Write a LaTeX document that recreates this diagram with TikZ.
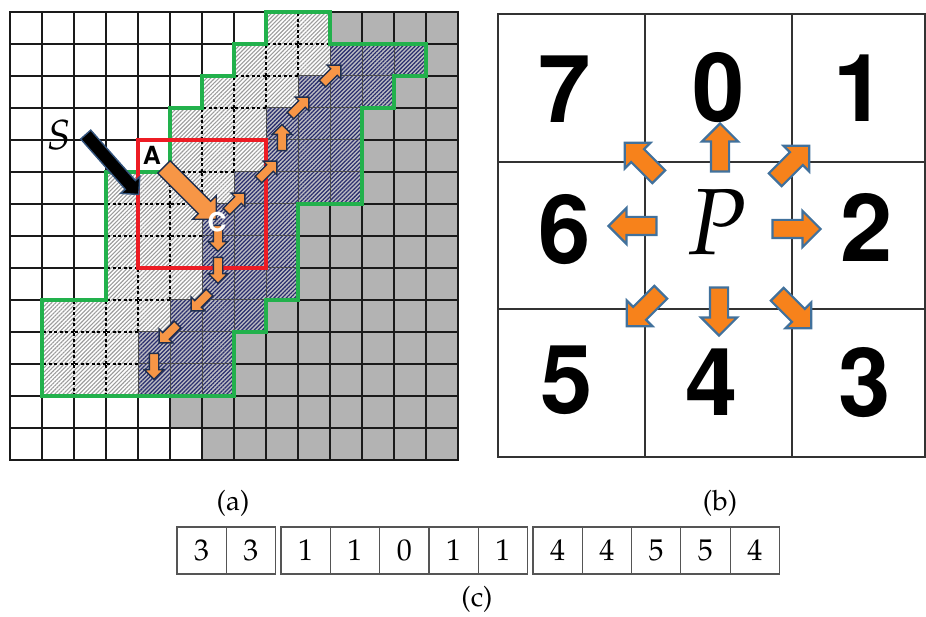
\documentclass[tikz,border=0pt]{standalone}
\usepackage[T1]{fontenc}
\usepackage{mathpazo}
\usepackage{helvet}
\usepackage{xcolor}
\usepackage{tikz}
\usetikzlibrary{shapes.arrows, patterns.meta, calc, positioning}
\definecolor{cellgray}{HTML}{B3B3B3}
\definecolor{hatchgray}{HTML}{9C9C9C}
\definecolor{codenavy}{HTML}{2B2F6E}
\definecolor{codebg}{HTML}{BDBDC3}
\definecolor{regiongreen}{HTML}{22B14C}
\definecolor{windowred}{HTML}{ED1C24}
\definecolor{chainorange}{HTML}{F79646}
\definecolor{chainedge}{HTML}{1F2F4F}
\definecolor{dirorange}{HTML}{F7821B}
\definecolor{diredge}{HTML}{41719C}
\definecolor{pointeredge}{HTML}{34557F}
\definecolor{lineblack}{HTML}{1A1A1A}
\definecolor{stripline}{HTML}{555555}
\tikzstyle{gridline} = [draw=lineblack, line width=1.6pt, line cap=rect]
\tikzstyle{bandcell} = [preaction={fill=white}, pattern={Lines[angle=45, distance=2.9pt, line width=1.1pt]}, pattern color=hatchgray]
\tikzstyle{bandline} = [draw=black, line width=1.1pt, dash pattern=on 3pt off 2.5pt]
\tikzstyle{codecell} = [preaction={fill=codebg}, pattern={Lines[angle=45, distance=2.9pt, line width=1.25pt]}, pattern color=codenavy, draw=black!70, line width=1pt]
\tikzstyle{regionline} = [draw=regiongreen, line width=3.2pt, line join=miter]
\tikzstyle{windowline} = [draw=windowred, line width=3.2pt]
\tikzstyle{chainarrow} = [single arrow, draw=chainedge, fill=chainorange, line width=1.4pt, minimum height=26pt, minimum width=0pt, inner xsep=0pt, inner ysep=4pt, single arrow head extend=5pt]
\tikzstyle{bigarrow} = [single arrow, draw=chainedge, fill=chainorange, line width=1.4pt, minimum height=74pt, minimum width=0pt, inner xsep=0pt, inner ysep=8pt, single arrow head extend=8pt]
\tikzstyle{pointer} = [single arrow, draw=pointeredge, fill=black, line width=1.4pt, minimum height=80pt, minimum width=0pt, inner xsep=0pt, inner ysep=6pt, single arrow head extend=6pt]
\tikzstyle{dirarrow} = [single arrow, draw=diredge, fill=dirorange, line width=2.2pt, minimum height=48pt, minimum width=0pt, inner xsep=0pt, inner ysep=8pt, single arrow head extend=9pt]
\tikzstyle{frameline} = [draw=black!80, line width=1.3pt]
\tikzstyle{celldigit} = [inner sep=0pt, font=\fontsize{94}{94}\selectfont\sffamily\bfseries]
\tikzstyle{codebox} = [draw=stripline, line width=1.2pt, minimum width=49.3pt, minimum height=47pt, inner sep=0pt, outer sep=0pt, font=\fontsize{30}{30}\selectfont]

\begin{document}
\begin{tikzpicture}[x=1pt, y=-1pt, every node/.style={font=\fontsize{28}{30}\selectfont}]
    \useasboundingbox (0,0) rectangle (926,617);

    % (a) grid of 14 x 14 cells
    \begin{scope}[xshift=10pt, yshift=-12pt, x=32pt, y=-32pt]
        \def\bandrows{0/8/9, 1/7/9, 2/6/8, 3/5/7, 4/5/7, 5/3/6, 6/3/5, 7/3/5, 8/3/5, 9/1/4, 10/1/3, 11/1/3}
        \def\coderows{1/10/12, 2/9/11, 3/8/10, 4/8/10, 5/7/10, 6/6/8, 7/6/8, 8/6/8, 9/5/7, 10/4/6, 11/4/6}
        \foreach \r/\a in {0/10, 1/13, 2/12, 3/11, 4/11, 5/11, 6/9, 7/9, 8/9, 9/8, 10/7, 11/7, 12/5, 13/6}
            \fill[cellgray] (\a,\r) rectangle (14,\r+1);
        \foreach \i in {0,...,14} {
            \draw[gridline] (\i,0) -- (\i,14);
            \draw[gridline] (0,\i) -- (14,\i);
        }
        \foreach \r/\a/\b in \bandrows
            \foreach \c in {\a,...,\b}
                \path[bandcell] (\c,\r) rectangle +(1,1);
        \foreach \r/\a/\b in \bandrows
            \foreach \c in {\a,...,\b}
                \draw[bandline] (\c,\r+1) -- (\c,\r) -- (\c+1,\r);
        \foreach \r/\a/\b in \coderows
            \foreach \c in {\a,...,\b}
                \path[codecell] (\c,\r) rectangle +(1,1);

        \draw[regionline] (8,0) -- (10,0) -- (10,1) -- (13,1) -- (13,2) -- (12,2) -- (12,3) -- (11,3) -- (11,6) -- (9,6) -- (9,9) -- (8,9) -- (8,10) -- (7,10) -- (7,12) -- (1,12) -- (1,9) -- (3,9) -- (3,5) -- (5,5) -- (5,3) -- (6,3) -- (6,2) -- (7,2) -- (7,1) -- (8,1) -- cycle;
        \draw[windowline] (4,4) rectangle (8,8);

        % chain cells
        \coordinate (a) at (4.5,4.5);
        \coordinate (c) at (6.5,6.5);
        \coordinate (u1) at (7.5,5.5);
        \coordinate (u2) at (8.5,4.5);
        \coordinate (u3) at (8.5,3.5);
        \coordinate (u4) at (9.5,2.5);
        \coordinate (u5) at (10.5,1.5);
        \coordinate (d1) at (6.5,7.5);
        \coordinate (d2) at (6.5,8.5);
        \coordinate (d3) at (5.5,9.5);
        \coordinate (d4) at (4.5,10.5);
        \coordinate (d5) at (4.5,11.5);
    \end{scope}

    \foreach \p/\q/\ang [count=\k] in {c/u1/45, u1/u2/45, u2/u3/90, u3/u4/45, u4/u5/45, c/d1/-90, d1/d2/-90, d2/d3/-135, d3/d4/-135, d4/d5/-90}
        \node[chainarrow, rotate=\ang] (link\k) at ($(\p)!0.5!(\q)$) {};
    \node[bigarrow, rotate=-45] (linkac) at ($(a)!0.5!(c)+(1,2)$) {};
    \node[pointer, rotate=-48.5] (spointer) at (110,162) {};

    % Labels
    \node[font=\fontsize{42}{42}\selectfont] (slabel) at (59,135) {$S$};
    \node[font=\fontsize{25}{25}\selectfont\sffamily\bfseries] (alabel) at ($(a)+(-2,0)$) {A};
    \node[font=\fontsize{26}{26}\selectfont\sffamily\bfseries, text=white] (clabel) at ($(c)+(-1,2)$) {C};

    % (b) eight directions
    \draw[frameline] (498,14) rectangle (925,457);
    \draw[frameline] (645,14) -- (645,457);
    \draw[frameline] (792,14) -- (792,457);
    \draw[frameline] (498,162) -- (925,162);
    \draw[frameline] (498,309) -- (925,309);
    \foreach \k/\x/\y in {7/565/89, 0/719/88, 1/860/88, 6/565/230, 2/867/228, 5/567/380, 4/712/382, 3/865/383}
        \node[celldigit] (num\k) at (\x,\y) {\k};
    \foreach \k/\x/\y/\ang in {0/720/152/90, 1/789/166/45, 2/792/229/0, 3/791/308/-45, 4/719/307/-90, 5/647/306/-135, 6/637/226/180, 7/645/163/135}
        \node[dirarrow, rotate=\ang] (dir\k) at (\x,\y) {};
    \node[font=\fontsize{94}{94}\selectfont] (pix) at (716,222) {$P$};

    % (c) chain code
    \node[codebox] (box1) at (201.65,550.5) {3};
    \node[codebox, right=0pt of box1] (box2) {3};
    \node[codebox, right=5.4pt of box2] (box3) {1};
    \node[codebox, right=0pt of box3] (box4) {1};
    \node[codebox, right=0pt of box4] (box5) {0};
    \node[codebox, right=0pt of box5] (box6) {1};
    \node[codebox, right=0pt of box6] (box7) {1};
    \node[codebox, right=5.4pt of box7] (box8) {4};
    \node[codebox, right=0pt of box8] (box9) {4};
    \node[codebox, right=0pt of box9] (box10) {5};
    \node[codebox, right=0pt of box10] (box11) {5};
    \node[codebox, right=0pt of box11] (box12) {4};

    \node (capa) at (233,503) {(a)};
    \node (capb) at (720,503) {(b)};
    \node (capc) at (477,599) {(c)};
\end{tikzpicture}
\end{document}
